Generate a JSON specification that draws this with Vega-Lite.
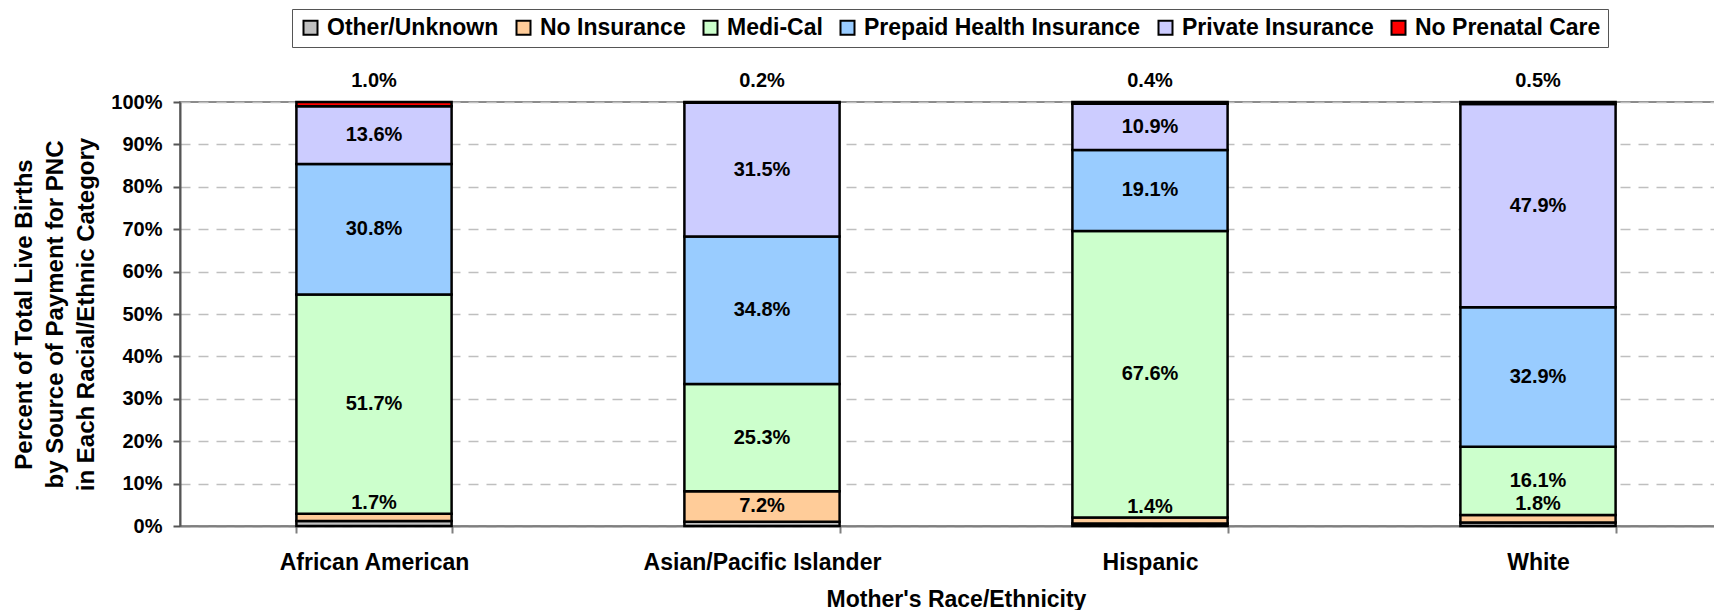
{
  "$schema": "https://vega.github.io/schema/vega-lite/v6.json",
  "width": 1536,
  "height": 424,
  "autosize": {"type": "none"},
  "padding": {"left": 180, "top": 102, "right": 0, "bottom": 84},
  "background": "white",
  "config": {
    "font": "Liberation Sans",
    "view": {"stroke": "#8c8c8c", "strokeWidth": 2}
  },
  "data": {
    "values": [
      {"race": "African American", "source": "Other/Unknown", "pct": 0.012},
      {"race": "African American", "source": "No Insurance", "pct": 0.017},
      {"race": "African American", "source": "Medi-Cal", "pct": 0.517},
      {"race": "African American", "source": "Prepaid Health Insurance", "pct": 0.308},
      {"race": "African American", "source": "Private Insurance", "pct": 0.136},
      {"race": "African American", "source": "No Prenatal Care", "pct": 0.010},
      {"race": "Asian/Pacific Islander", "source": "Other/Unknown", "pct": 0.010},
      {"race": "Asian/Pacific Islander", "source": "No Insurance", "pct": 0.072},
      {"race": "Asian/Pacific Islander", "source": "Medi-Cal", "pct": 0.253},
      {"race": "Asian/Pacific Islander", "source": "Prepaid Health Insurance", "pct": 0.348},
      {"race": "Asian/Pacific Islander", "source": "Private Insurance", "pct": 0.315},
      {"race": "Asian/Pacific Islander", "source": "No Prenatal Care", "pct": 0.002},
      {"race": "Hispanic", "source": "Other/Unknown", "pct": 0.006},
      {"race": "Hispanic", "source": "No Insurance", "pct": 0.014},
      {"race": "Hispanic", "source": "Medi-Cal", "pct": 0.676},
      {"race": "Hispanic", "source": "Prepaid Health Insurance", "pct": 0.191},
      {"race": "Hispanic", "source": "Private Insurance", "pct": 0.109},
      {"race": "Hispanic", "source": "No Prenatal Care", "pct": 0.004},
      {"race": "White", "source": "Other/Unknown", "pct": 0.008},
      {"race": "White", "source": "No Insurance", "pct": 0.018},
      {"race": "White", "source": "Medi-Cal", "pct": 0.161},
      {"race": "White", "source": "Prepaid Health Insurance", "pct": 0.329},
      {"race": "White", "source": "Private Insurance", "pct": 0.479},
      {"race": "White", "source": "No Prenatal Care", "pct": 0.005}
    ]
  },
  "transform": [
    {"calculate": "indexof(['Other/Unknown','No Insurance','Medi-Cal','Prepaid Health Insurance','Private Insurance','No Prenatal Care'], datum.source)", "as": "ord"},
    {"stack": "pct", "groupby": ["race"], "sort": [{"field": "ord", "order": "ascending"}], "as": ["y0", "y1"]},
    {"calculate": "(datum.y0 + datum.y1) / 2", "as": "mid"}
  ],
  "encoding": {
    "x": {
      "field": "race",
      "type": "nominal",
      "sort": ["African American", "Asian/Pacific Islander", "Hispanic", "White"],
      "scale": {"range": [0, 1552], "paddingInner": 0.6, "paddingOuter": 0.3},
      "axis": {
        "title": "Mother's Race/Ethnicity",
        "titleFont": "Liberation Sans",
        "titleFontSize": 23,
        "titleFontWeight": "bold",
        "titleColor": "black",
        "titlePadding": 14,
        "labelFont": "Liberation Sans",
        "labelFontSize": 23,
        "labelFontWeight": "bold",
        "labelColor": "black",
        "labelAngle": 0,
        "labelPadding": 18,
        "labelLimit": 600,
        "tickBand": "extent",
        "tickSize": 7,
        "tickColor": "#7f7f7f",
        "tickWidth": 2,
        "domainColor": "#7f7f7f",
        "domainWidth": 2,
        "grid": false
      }
    }
  },
  "layer": [
    {
      "mark": {"type": "bar", "stroke": "black", "strokeWidth": 2.5},
      "encoding": {
        "y": {
          "field": "y0",
          "type": "quantitative",
          "scale": {"domain": [0, 1]},
          "axis": {
            "title": ["Percent of Total Live Births", "by Source of Payment for PNC", "in Each Racial/Ethnic Category"],
            "titleFont": "Liberation Sans",
            "titleFontSize": 24,
            "titleFontWeight": "bold",
            "titleColor": "black",
            "titleLineHeight": 31,
            "titlePadding": 12,
            "format": "0%",
            "values": [0, 0.1, 0.2, 0.3, 0.4, 0.5, 0.6, 0.7, 0.8, 0.9, 1],
            "labelFont": "Liberation Sans",
            "labelFontSize": 20,
            "labelFontWeight": "bold",
            "labelColor": "black",
            "labelPadding": 11,
            "tickSize": 7,
            "tickColor": "#555555",
            "tickWidth": 2,
            "domainColor": "#555555",
            "domainWidth": 2,
            "grid": true,
            "gridColor": "#bfbfbf",
            "gridDash": [10, 8],
            "gridWidth": 1.5
          }
        },
        "y2": {"field": "y1"},
        "color": {
          "field": "source",
          "type": "nominal",
          "scale": {
            "domain": ["Other/Unknown", "No Insurance", "Medi-Cal", "Prepaid Health Insurance", "Private Insurance", "No Prenatal Care"],
            "range": ["#C0C0C0", "#FFCC99", "#CCFFCC", "#99CCFF", "#CCCCFF", "#FF0000"]
          },
          "legend": {
            "title": null,
            "orient": "none",
            "legendX": 112,
            "legendY": -93,
            "direction": "horizontal",
            "columns": 6,
            "strokeColor": "#555555",
            "padding": 7,
            "columnPadding": 13,
            "labelFont": "Liberation Sans",
            "labelFontSize": 23,
            "labelFontWeight": "bold",
            "labelColor": "black",
            "labelLimit": 600,
            "labelOffset": 5,
            "symbolType": "square",
            "symbolSize": 196,
            "symbolStrokeColor": "black",
            "symbolStrokeWidth": 2,
            "symbolOpacity": 1
          }
        }
      }
    },
    {
      "transform": [
        {"filter": "indexof(['Medi-Cal','Prepaid Health Insurance','Private Insurance'], datum.source) >= 0 || (datum.source == 'No Insurance' && datum.pct >= 0.05)"}
      ],
      "mark": {"type": "text", "font": "Liberation Sans", "fontSize": 20, "fontWeight": "bold", "color": "black", "baseline": "middle"},
      "encoding": {
        "y": {"field": "mid", "type": "quantitative"},
        "text": {"field": "pct", "type": "quantitative", "format": ".1%"}
      }
    },
    {
      "transform": [
        {"filter": "datum.source == 'No Insurance' && datum.pct < 0.05"}
      ],
      "mark": {"type": "text", "font": "Liberation Sans", "fontSize": 20, "fontWeight": "bold", "color": "black", "baseline": "alphabetic", "dy": -5},
      "encoding": {
        "y": {"field": "y1", "type": "quantitative"},
        "text": {"field": "pct", "type": "quantitative", "format": ".1%"}
      }
    },
    {
      "transform": [
        {"filter": "datum.source == 'No Prenatal Care'"}
      ],
      "mark": {"type": "text", "font": "Liberation Sans", "fontSize": 20, "fontWeight": "bold", "color": "black", "baseline": "alphabetic", "dy": -15},
      "encoding": {
        "y": {"field": "y1", "type": "quantitative"},
        "text": {"field": "pct", "type": "quantitative", "format": ".1%"}
      }
    }
  ]
}
